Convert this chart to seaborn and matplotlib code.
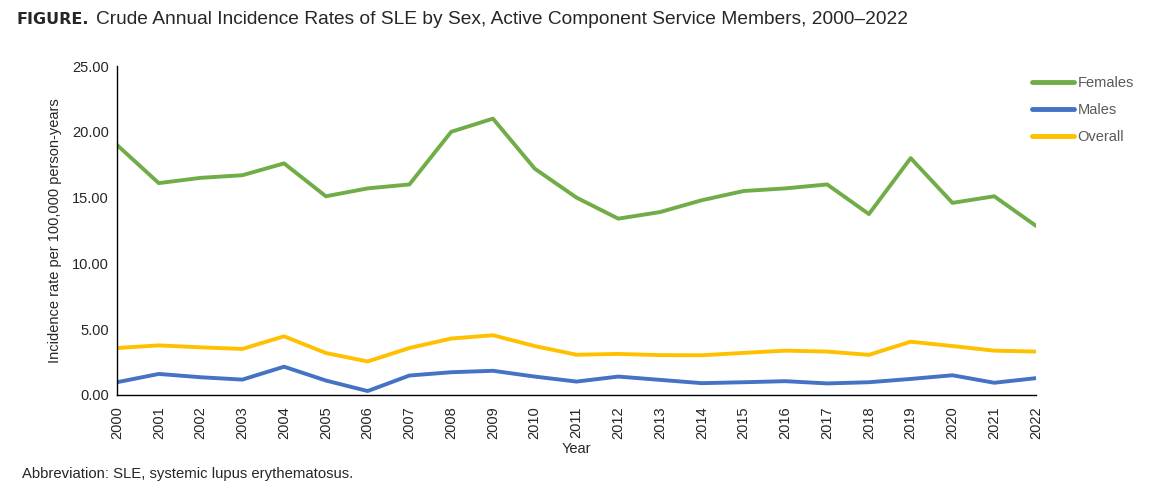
import matplotlib
matplotlib.use('Agg')
import matplotlib.pyplot as plt
import seaborn as sns
import pandas as pd
from matplotlib.ticker import FormatStrFormatter

# Data
years = list(range(2000, 2023))
females = [19.0, 16.1, 16.5, 16.7, 17.6, 15.1, 15.7, 16.0, 20.0, 21.0, 17.2, 15.0,
           13.4, 13.9, 14.8, 15.5, 15.7, 16.0, 13.75, 18.0, 14.6, 15.1, 12.85]
males = [0.97, 1.6, 1.35, 1.17, 2.15, 1.1, 0.3, 1.48, 1.73, 1.84, 1.4, 1.02,
         1.4, 1.15, 0.9, 0.97, 1.05, 0.88, 0.97, 1.22, 1.5, 0.93, 1.28]
overall = [3.57, 3.77, 3.62, 3.5, 4.46, 3.19, 2.55, 3.57, 4.29, 4.54, 3.72, 3.06,
           3.12, 3.03, 3.02, 3.2, 3.37, 3.3, 3.05, 4.05, 3.72, 3.37, 3.3]
series_names = ['Females', 'Males', 'Overall']
colors = ['#70AD47', '#4472C4', '#FFC000']

df = pd.DataFrame({
    'Year': years * 3,
    'Rate': females + males + overall,
    'Group': [s for s in series_names for _ in years],
})

sns.set_style('white')
plt.rcParams['font.family'] = ['Liberation Sans', 'DejaVu Sans']

fig = plt.figure(figsize=(11.5, 4.99), dpi=100)
ax = fig.add_axes([117 / 1150, 1 - 395 / 499, (1036 - 117) / 1150, (395 - 66) / 499])

sns.lineplot(data=df, x='Year', y='Rate', hue='Group', palette=colors,
             linewidth=2.8, ax=ax, legend=True)

ax.set_xlim(2000, 2022)
ax.set_ylim(0, 25)
ax.set_xticks(years)
ax.set_xticklabels([str(y) for y in years], rotation=90, fontsize=10.5)
ax.set_yticks([0, 5, 10, 15, 20, 25])
ax.yaxis.set_major_formatter(FormatStrFormatter('%.2f'))
ax.tick_params(axis='y', direction='inout', length=8, width=1, labelsize=10.5, pad=2)
ax.tick_params(axis='x', direction='out', length=6, width=1, pad=2)
for s in ['top', 'right']:
    ax.spines[s].set_visible(False)
for s in ['left', 'bottom']:
    ax.spines[s].set_color('black')
    ax.spines[s].set_linewidth(1)

ax.set_xlabel('Year', fontsize=10.5, labelpad=2)
ax.set_ylabel('Incidence rate per 100,000 person-years', fontsize=10.5, labelpad=7)

leg = ax.legend(loc='upper left', bbox_to_anchor=((1032 - 117) / 919, (395 - 76) / 329),
                frameon=False, fontsize=10.5, handlelength=2.86, labelspacing=0.9,
                handletextpad=0.25, borderpad=0, borderaxespad=0)
for t in leg.get_texts():
    t.set_color('#595959')
for h in leg.get_lines():
    h.set_linewidth(3.5)

# title: bold label, then the plain text right after it
fig_lbl = fig.text(16 / 1150, 1 - 20 / 499, 'FIGURE.', family=['DejaVu Sans'],
                   weight='bold', fontsize=11.5, va='center', ha='left')
fig.canvas.draw()
bb = fig_lbl.get_window_extent(renderer=fig.canvas.get_renderer())
fig.text((bb.x1 + 8) / 1150, 1 - 20 / 499,
         'Crude Annual Incidence Rates of SLE by Sex, Active Component Service Members, 2000\u20132022',
         fontsize=13.8, va='center', ha='left')
fig.text(22 / 1150, 1 - 474 / 499, 'Abbreviation: SLE, systemic lupus erythematosus.',
         fontsize=10.7, va='center', ha='left')

plt.savefig('out.png', dpi=100)
